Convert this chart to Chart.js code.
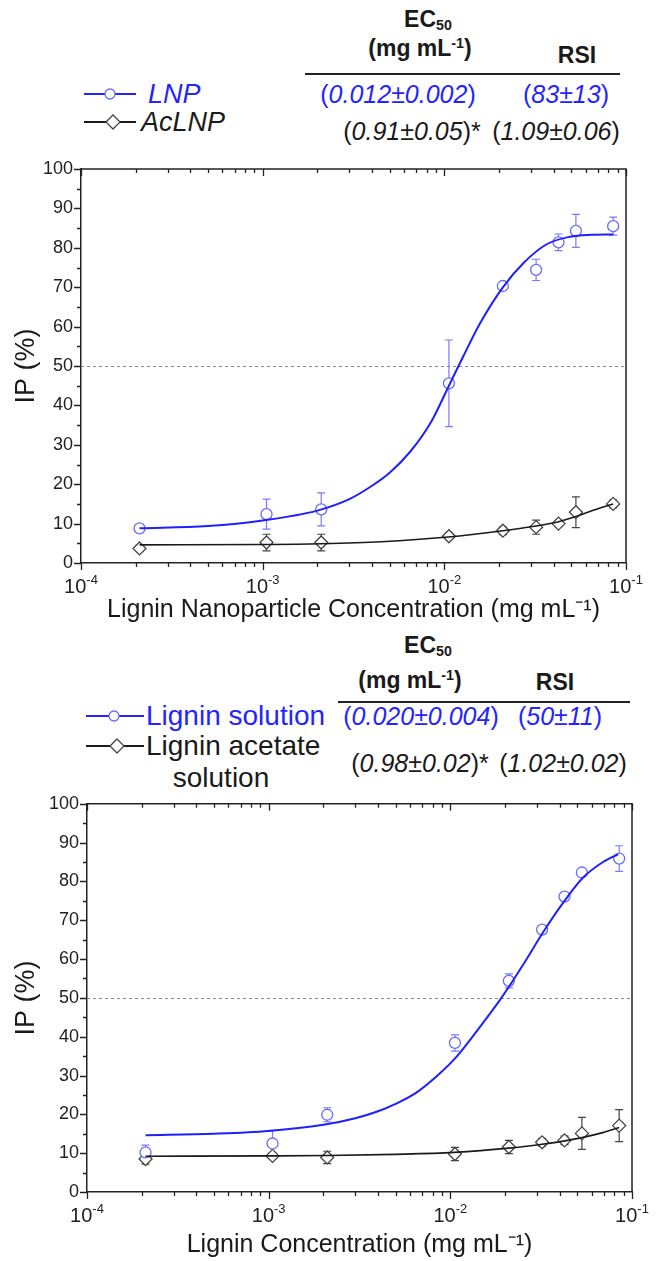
<!DOCTYPE html>
<html>
<head>
<meta charset="utf-8">
<script src="https://cdn.jsdelivr.net/npm/chart.js@4.4.0/dist/chart.umd.min.js"></script>
<style>
    body { margin: 0; width: 656px; height: 1261px; position: relative; background: #fff; overflow: hidden;
           font-family: 'Liberation Sans', Arial, sans-serif; color: #1a1a1a; }
    canvas { position: absolute; left: 0; }
    .t { position: absolute; white-space: nowrap; line-height: 1; transform: translate(-50%, -50%); }
    .l { position: absolute; white-space: nowrap; line-height: 1; transform: translate(0, -50%); }
    .b { font-weight: bold; font-size: 23px; }
    .v { font-size: 25px; }
    .blue { color: #2424ff; }
    .rule { position: absolute; height: 1.5px; background: #222; }
    sub { font-size: 0.62em; vertical-align: -0.25em; line-height: 0; }
    sup { font-size: 0.62em; vertical-align: 0.55em; line-height: 0; }
    svg { position: absolute; }
</style>
</head>
<body>

<!-- шапка первого графика -->
<div class="t b" style="left:428px;top:19px">EC<sub>50</sub></div>
<div class="t b" style="left:420px;top:48px">(mg mL<sup>-1</sup>)</div>
<div class="t b" style="left:577px;top:55px">RSI</div>
<div class="rule" style="left:305px;top:73px;width:315px"></div>
<svg style="left:82px;top:84px" width="56" height="20"><line x1="2" y1="10" x2="54" y2="10" stroke="#2424ff" stroke-width="2"/><circle cx="28" cy="10" r="5" fill="#fff" stroke="#6a6aff" stroke-width="1.3"/></svg>
<div class="l blue" style="left:148px;top:94px;font-size:27px;font-style:italic">LNP</div>
<div class="t v blue" style="left:398px;top:94px">(<i>0.012±0.002</i>)</div>
<div class="t v blue" style="left:566px;top:94px">(<i>83±13</i>)</div>
<svg style="left:82px;top:112px" width="56" height="20"><line x1="2" y1="10" x2="54" y2="10" stroke="#1a1a1a" stroke-width="2"/><path d="M31 3 L38 10 L31 17 L24 10 Z" fill="#fff" stroke="#444" stroke-width="1.3"/></svg>
<div class="l" style="left:141px;top:122px;font-size:27px;font-style:italic">AcLNP</div>
<div class="t v" style="left:412px;top:131px">(<i>0.91±0.05</i>)*</div>
<div class="t v" style="left:556px;top:131px">(<i>1.09±0.06</i>)</div>

<canvas id="chart1" width="656" height="475" style="top:150px"></canvas>

<!-- шапка второго графика -->
<div class="t b" style="left:428px;top:645px">EC<sub>50</sub></div>
<div class="t b" style="left:410px;top:680px">(mg mL<sup>-1</sup>)</div>
<div class="t b" style="left:555px;top:682px">RSI</div>
<div class="rule" style="left:338px;top:701px;width:292px"></div>
<svg style="left:84px;top:706px" width="62" height="20"><line x1="2" y1="10" x2="60" y2="10" stroke="#2424ff" stroke-width="2"/><circle cx="30" cy="10" r="5" fill="#fff" stroke="#6a6aff" stroke-width="1.3"/></svg>
<div class="l blue" style="left:146px;top:716px;font-size:28px">Lignin solution</div>
<div class="t v blue" style="left:421px;top:716px">(<i>0.020±0.004</i>)</div>
<div class="t v blue" style="left:560px;top:716px">(<i>50±11</i>)</div>
<svg style="left:84px;top:736px" width="62" height="20"><line x1="2" y1="10" x2="60" y2="10" stroke="#1a1a1a" stroke-width="2"/><path d="M33 3 L40 10 L33 17 L26 10 Z" fill="#fff" stroke="#444" stroke-width="1.3"/></svg>
<div class="l" style="left:146px;top:746px;font-size:28px">Lignin acetate</div>
<div class="t" style="left:221px;top:778px;font-size:28px">solution</div>
<div class="t v" style="left:420px;top:763px">(<i>0.98±0.02</i>)*</div>
<div class="t v" style="left:563px;top:763px">(<i>1.02±0.02</i>)</div>

<canvas id="chart2" width="656" height="476" style="top:785px"></canvas>

<script>
// Концентрации (мг/мл), общие для обоих графиков
const conc = [0.00021, 0.00105, 0.0021, 0.0106, 0.021, 0.032, 0.0425, 0.053, 0.085];

// Наночастицы: LNP и AcLNP (IP, %)
const lnpIP = [8.8, 12.4, 13.6, 45.6, 70.3, 74.4, 81.4, 84.3, 85.5];
const lnpErr = [0.6, 3.8, 4.2, 11.0, 1.0, 2.7, 2.1, 4.2, 2.3];
const aclnpIP = [3.7, 5.2, 5.2, 6.8, 8.2, 9.1, 10.0, 12.9, 15.0];
const aclnpErr = [0.8, 2.1, 2.1, 0.8, 1.0, 1.8, 0.8, 3.9, 1.0];

// Аппроксимирующие кривые
const lnpFitX = [0.00021, 0.0005, 0.001, 0.002, 0.003, 0.004, 0.005, 0.0065, 0.0085, 0.0106, 0.0127, 0.0157, 0.0211, 0.0272, 0.0366, 0.0491, 0.065, 0.085];
const lnpFitY = [8.8, 9.4, 10.8, 13.3, 16.2, 19.6, 22.9, 28.3, 36.0, 45.0, 52.4, 60.8, 70.1, 76.1, 80.9, 82.8, 83.3, 83.4];
const aclnpFitX = [0.00021, 0.001, 0.0021, 0.0045, 0.0105, 0.021, 0.032, 0.042, 0.053, 0.066, 0.085];
const aclnpFitY = [4.6, 4.7, 4.9, 5.4, 6.6, 8.2, 9.4, 10.4, 11.8, 13.4, 15.0];

// Растворы: лигнин и ацетат лигнина (IP, %)
const ligIP = [10.2, 12.5, 19.9, 38.4, 54.4, 67.6, 76.1, 82.3, 85.9];
const ligErr = [1.9, 3.4, 1.8, 2.1, 1.8, 0.8, 0.8, 0.6, 3.3];
const acligIP = [8.5, 9.3, 8.9, 9.8, 11.6, 12.8, 13.3, 15.1, 17.1];
const acligErr = [1.3, 0.7, 1.6, 1.7, 1.7, 1.0, 1.1, 4.1, 4.1];

const ligFitX = [0.00021, 0.0005, 0.001, 0.002, 0.003, 0.004, 0.005, 0.0065, 0.0085, 0.0108, 0.0146, 0.0191, 0.0252, 0.0324, 0.0427, 0.0538, 0.0693, 0.0839];
const ligFitY = [14.6, 15.0, 15.7, 17.3, 19.0, 20.8, 22.7, 25.6, 30.0, 34.8, 42.6, 50.0, 58.6, 66.9, 75.1, 81.0, 85.0, 87.0];
const acligFitX = [0.00021, 0.001, 0.0021, 0.005, 0.0105, 0.021, 0.032, 0.042, 0.053, 0.069, 0.085];
const acligFitY = [9.2, 9.3, 9.4, 9.7, 10.2, 11.3, 12.3, 13.1, 14.0, 15.3, 16.6];

// Оси
const xMajor = [1e-4, 1e-3, 1e-2, 1e-1];
const xExp = ['-4', '-3', '-2', '-1'];
const xMinorMult = [2, 3, 4, 5, 6, 7, 8, 9];
const halfIP = 50;

const BLUE = '#1f1fff';
const BLUE_PT = '#6a6aff';
const DARK = '#1a1a1a';
const FONT = "'Liberation Sans', Arial, sans-serif";

const pts = (xs, ys) => xs.map((x, i) => ({ x, y: ys[i] }));

// Рамка, деления, подписи оси X, планки погрешностей и линия 50 %
const frame = {
    id: 'frame',
    beforeDatasetsDraw(chart, args, o) {
        const { ctx, chartArea: a, scales: { y } } = chart;
        ctx.save();
        ctx.strokeStyle = '#888';
        ctx.lineWidth = 1;
        ctx.setLineDash([3, 3]);
        const yh = Math.round(y.getPixelForValue(halfIP)) + 0.5;
        ctx.beginPath();
        ctx.moveTo(a.left, yh);
        ctx.lineTo(a.right, yh);
        ctx.stroke();
        ctx.setLineDash([]);
        o.errors.forEach(e => {
            const meta = chart.getDatasetMeta(e.ds);
            const data = chart.data.datasets[e.ds].data;
            ctx.strokeStyle = e.color;
            ctx.lineWidth = 1.2;
            ctx.beginPath();
            meta.data.forEach((p, i) => {
                const t = y.getPixelForValue(data[i].y + e.err[i]);
                const b = y.getPixelForValue(data[i].y - e.err[i]);
                ctx.moveTo(p.x, t); ctx.lineTo(p.x, b);
                ctx.moveTo(p.x - 4, t); ctx.lineTo(p.x + 4, t);
                ctx.moveTo(p.x - 4, b); ctx.lineTo(p.x + 4, b);
            });
            ctx.stroke();
        });
        ctx.restore();
    },
    afterDraw(chart) {
        const { ctx, chartArea: a, scales: { x, y } } = chart;
        ctx.save();
        ctx.strokeStyle = '#222';
        ctx.lineWidth = 1.5;
        ctx.beginPath();
        ctx.moveTo(a.left, a.top);
        ctx.lineTo(a.right, a.top);
        ctx.lineTo(a.right, a.bottom);
        ctx.stroke();

        ctx.lineWidth = 1.3;
        ctx.beginPath();
        x.ticks.forEach(t => {
            const px = Math.round(x.getPixelForValue(t.value)) + 0.5;
            const len = xMajor.includes(t.value) ? 7 : 4;
            ctx.moveTo(px, a.bottom); ctx.lineTo(px, a.bottom + len);
            ctx.moveTo(px, a.top); ctx.lineTo(px, a.top + len);
        });
        y.ticks.forEach(t => {
            const py = Math.round(y.getPixelForValue(t.value)) + 0.5;
            const len = t.value % 10 === 0 ? 7 : 4;
            ctx.moveTo(a.left - len, py); ctx.lineTo(a.left, py);
        });
        ctx.stroke();

        ctx.fillStyle = '#222';
        ctx.textBaseline = 'alphabetic';
        ctx.textAlign = 'left';
        xMajor.forEach((v, i) => {
            const px = x.getPixelForValue(v);
            ctx.font = '20px ' + FONT;
            const w1 = ctx.measureText('10').width;
            ctx.font = '13px ' + FONT;
            const w2 = ctx.measureText(xExp[i]).width;
            const left = px - (w1 + w2) / 2;
            const base = a.bottom + 30;
            ctx.font = '20px ' + FONT;
            ctx.fillText('10', left, base);
            ctx.font = '13px ' + FONT;
            ctx.fillText(xExp[i], left + w1, base - 9);
        });
        ctx.restore();
    }
};

function makeChart(id, s) {
    return new Chart(document.getElementById(id), {
        type: 'scatter',
        data: {
            datasets: [
                { label: s.names[0] + ' fit', data: pts(s.fit1X, s.fit1Y), showLine: true, pointRadius: 0,
                  borderColor: BLUE, borderWidth: 2, cubicInterpolationMode: 'monotone' },
                { label: s.names[1] + ' fit', data: pts(s.fit2X, s.fit2Y), showLine: true, pointRadius: 0,
                  borderColor: DARK, borderWidth: 1.6, cubicInterpolationMode: 'monotone' },
                { label: s.names[0], data: pts(conc, s.y1), pointStyle: 'circle', pointRadius: 5.5,
                  borderColor: BLUE_PT, backgroundColor: '#fff', borderWidth: 1.3 },
                { label: s.names[1], data: pts(conc, s.y2), pointStyle: 'rectRot', pointRadius: 6.5,
                  borderColor: '#444', backgroundColor: '#fff', borderWidth: 1.3 }
            ]
        },
        options: {
            responsive: false,
            animation: false,
            layout: { padding: { top: s.padTop, right: s.padRight, left: 0, bottom: 0 } },
            plugins: {
                legend: { display: false },
                tooltip: { enabled: false },
                frame: {
                    errors: [
                        { ds: 2, err: s.e1, color: '#7a7aff' },
                        { ds: 3, err: s.e2, color: '#444' }
                    ]
                }
            },
            scales: {
                x: {
                    type: 'logarithmic', min: 1e-4, max: 0.1,
                    afterBuildTicks: sc => {
                        const t = [];
                        xMajor.forEach(v => {
                            t.push({ value: v });
                            if (v < 0.1) xMinorMult.forEach(m => t.push({ value: v * m }));
                        });
                        sc.ticks = t;
                    },
                    afterFit: sc => { sc.height = s.xAxisH; },
                    ticks: { display: false },
                    grid: { display: false, drawTicks: false },
                    border: { color: '#222', width: 1.5 },
                    title: { display: true, text: s.xTitle, color: '#1a1a1a',
                             font: { size: 25, family: FONT }, padding: { top: 0, bottom: s.titlePad } }
                },
                y: {
                    min: 0, max: 100,
                    ticks: { stepSize: 5, autoSkip: false, padding: 8, color: '#222',
                             font: { size: 18, family: FONT },
                             callback: v => (v % 10 === 0 ? v : '') },
                    afterFit: sc => { sc.width = s.yAxisW; },
                    grid: { display: false, drawTicks: false },
                    border: { color: '#222', width: 1.5 },
                    title: { display: true, text: 'IP (%)', color: '#1a1a1a',
                             font: { size: 27, family: FONT }, padding: { top: 10, bottom: 0 } }
                }
            }
        },
        plugins: [frame]
    });
}

makeChart('chart1', {
    names: ['LNP', 'AcLNP'],
    y1: lnpIP, e1: lnpErr, y2: aclnpIP, e2: aclnpErr,
    fit1X: lnpFitX, fit1Y: lnpFitY, fit2X: aclnpFitX, fit2Y: aclnpFitY,
    padTop: 19, padRight: 30, yAxisW: 81, xAxisH: 62, titlePad: 0,
    xTitle: 'Lignin Nanoparticle Concentration (mg mL⁻¹)'
});

makeChart('chart2', {
    names: ['Lignin solution', 'Lignin acetate solution'],
    y1: ligIP, e1: ligErr, y2: acligIP, e2: acligErr,
    fit1X: ligFitX, fit1Y: ligFitY, fit2X: acligFitX, fit2Y: acligFitY,
    padTop: 11, padRight: 24, yAxisW: 87, xAxisH: 69, titlePad: 1,
    xTitle: 'Lignin Concentration (mg mL⁻¹)'
});
</script>
</body>
</html>
